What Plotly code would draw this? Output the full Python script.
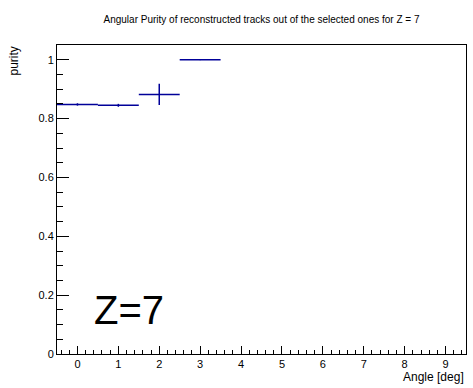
import plotly.graph_objects as go

bin_centers = [0, 1, 2, 3]
purity = [0.848, 0.845, 0.882, 1.0]
purity_err = [0.004, 0.005, 0.036, 0.0]
bin_halfwidth = [0.5, 0.5, 0.5, 0.5]

x_ticks = [0, 1, 2, 3, 4, 5, 6, 7, 8, 9]
y_ticks = [0, 0.2, 0.4, 0.6, 0.8, 1.0]
y_ticklabels = ["0", "0.2", "0.4", "0.6", "0.8", "1"]

color = "#000099"
font = "Liberation Sans, Arial, sans-serif"

fig = go.Figure()
fig.add_trace(go.Scatter(
    x=bin_centers, y=purity, mode="markers",
    marker=dict(size=1, color=color),
    error_x=dict(type="data", array=bin_halfwidth, width=0, thickness=1.5, color=color),
    error_y=dict(type="data", array=purity_err, width=0, thickness=1.5, color=color),
    showlegend=False,
))

fig.update_layout(
    width=473, height=388,
    margin=dict(l=57, r=7, t=45, b=34),
    paper_bgcolor="white", plot_bgcolor="white",
    font=dict(family=font, color="black"),
    title=dict(text="Angular Purity of reconstructed tracks out of the selected ones for Z = 7",
               x=(57 + 466) / 2 / 473, xanchor="center", y=1 - 19 / 388, yanchor="middle",
               font=dict(size=10, family=font)),
    xaxis=dict(range=[-0.5, 9.5], tickvals=x_ticks, ticks="inside", ticklen=8,
               tickcolor="black", showgrid=False, zeroline=False, showline=True,
               linecolor="black", linewidth=1, mirror=True,
               tickfont=dict(size=11),
               minor=dict(dtick=0.2, ticks="inside", ticklen=4, tickcolor="black", showgrid=False)),
    yaxis=dict(range=[0, 1.05], tickvals=y_ticks, ticktext=y_ticklabels, ticks="inside", ticklen=12,
               tickcolor="black", showgrid=False, zeroline=False, showline=True,
               linecolor="black", linewidth=1, mirror=True,
               tickfont=dict(size=11),
               minor=dict(dtick=0.05, ticks="inside", ticklen=6, tickcolor="black", showgrid=False)),
)

fig.add_annotation(text="Angle [deg]", xref="paper", yref="paper", x=1, y=0,
                   xanchor="right", yanchor="middle", yshift=-23, showarrow=False,
                   font=dict(size=12))
fig.add_annotation(text="purity", xref="paper", yref="paper", x=0, y=1,
                   xanchor="right", yanchor="top", xshift=-35, textangle=-90, showarrow=False,
                   font=dict(size=12))
fig.add_annotation(text="Z=7", xref="x", yref="y", x=1.25, y=0.15,
                   xanchor="center", yanchor="middle", showarrow=False,
                   font=dict(size=40))

fig.write_html("out.html")
